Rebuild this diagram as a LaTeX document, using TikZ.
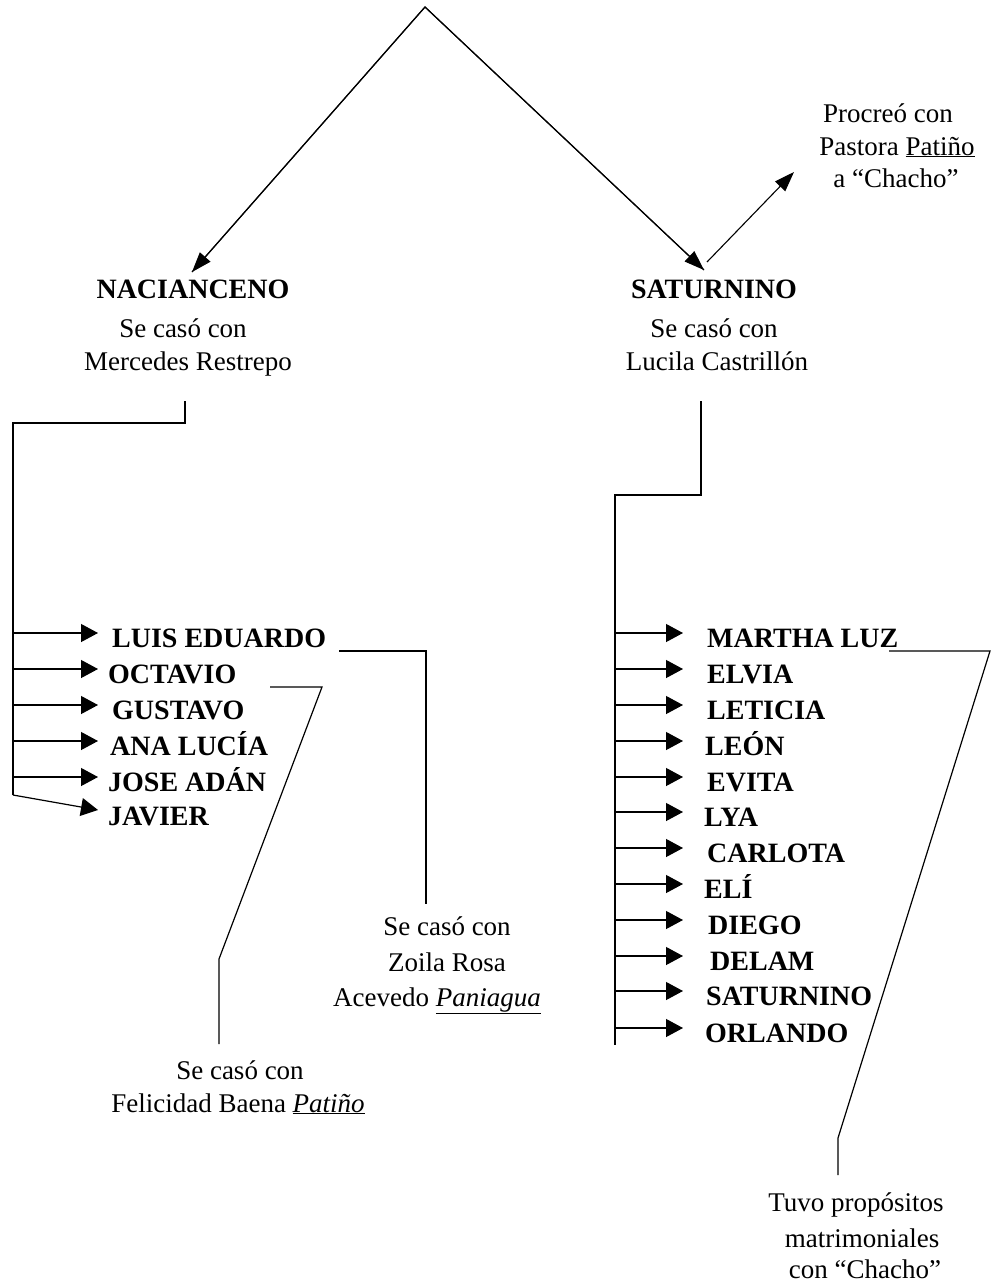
\documentclass[tikz,border=0pt]{standalone}
\usepackage{fontspec}
\setmainfont{Liberation Serif}
\usetikzlibrary{arrows.meta}
\begin{document}
\begin{tikzpicture}[x=1pt,y=-1pt,
  line/.style={line width=1.2pt},
  darr/.style={line width=1.1pt,-{Triangle[length=20pt,width=14pt]}},
  harr/.style={line width=1.2pt,-{Triangle[length=17pt,width=18pt]}},
  bname/.style={anchor=base west,inner sep=0pt,font=\fontsize{28}{34}\selectfont\bfseries},
  bhead/.style={anchor=base,inner sep=0pt,font=\fontsize{28}{34}\selectfont\bfseries},
  txt/.style={anchor=base,inner sep=0pt,font=\fontsize{27}{33}\selectfont}]
\useasboundingbox (0,0) rectangle (992,1285);
\fill[white] (0,0) rectangle (992,1285);

% top
\coordinate (apex) at (425,7);
\coordinate (nacTip) at (192,272);
\coordinate (satTip) at (704,270);
\coordinate (satOut) at (707,262);
\coordinate (procTip) at (794,172);
\draw[line] (nacTip) -- (apex) -- (satTip);
\draw[darr] (apex) -- (nacTip);
\draw[darr] (apex) -- (satTip);
\draw[darr] (satOut) -- (procTip);

\node[txt] (proc1) at (888,122) {Procreó con};
\node[txt] (proc2) at (897,155) {Pastora \underline{Patiño}};
\node[txt] (proc3) at (896,187) {a “Chacho”};

\node[bhead] (nac) at (193,298) {NACIANCENO};
\node[txt] (nac1) at (183,337) {Se casó con};
\node[txt] (nac2) at (188,370) {Mercedes Restrepo};

\node[bhead] (sat) at (714,298) {SATURNINO};
\node[txt] (sat1) at (714,337) {Se casó con};
\node[txt] (sat2) at (717,370) {Lucila Castrillón};

% left bracket
\coordinate (lb0) at (185,401);
\coordinate (lb1) at (185,423);
\coordinate (lb2) at (13,423);
\coordinate (lb3) at (13,795);
\draw[line] (lb0) -- (lb1) -- (lb2) -- (lb3);

\foreach \n/\x/\y/\t in {luis/112/633/LUIS EDUARDO, octavio/108/669/OCTAVIO, gustavo/112/705/GUSTAVO, ana/110/741/ANA LUCÍA, jose/108/777/JOSE ADÁN}{
  \node[bname] (\n) at (\x,\y+14) {\t};
  \coordinate (\n s) at (13,\y);
  \coordinate (\n t) at (98,\y);
  \draw[harr] (\n s) -- (\n t);
}
\node[bname] (javier) at (108,825) {JAVIER};
\coordinate (javiert) at (98,810);
\draw[harr] (lb3) -- (javiert);

% right bracket
\coordinate (rb0) at (701,401);
\coordinate (rb1) at (701,495);
\coordinate (rb2) at (615,495);
\coordinate (rb3) at (615,1045);
\draw[line] (rb0) -- (rb1) -- (rb2) -- (rb3);

\foreach \n/\x/\y/\t in {martha/707/633/MARTHA LUZ, elvia/707/669/ELVIA, leticia/707/705/LETICIA, leon/705/741/LEÓN, evita/707/777/EVITA, lya/704/812/LYA, carlota/707/848/CARLOTA, eli/704/884/ELÍ, diego/708/920/DIEGO, delam/710/956/DELAM, saturnino/706/991/SATURNINO, orlando/705/1028/ORLANDO}{
  \node[bname] (\n) at (\x,\y+14) {\t};
  \coordinate (\n s) at (615,\y);
  \coordinate (\n t) at (683,\y);
  \draw[harr] (\n s) -- (\n t);
}

% spouse connectors
\coordinate (c1a) at (339,651);
\coordinate (c1b) at (426,651);
\coordinate (c1c) at (426,904);
\draw[line] (c1a) -- (c1b) -- (c1c);
\node[txt] (zo1) at (447,935) {Se casó con};
\node[txt] (zo2) at (447,971) {Zoila Rosa};
\node[txt] (zo3) at (437,1006) {Acevedo \underline{\textit{Paniagua}}};

\coordinate (c2a) at (270,687);
\coordinate (c2b) at (322,687);
\coordinate (c2c) at (219,959);
\coordinate (c2d) at (219,1044);
\draw[line] (c2a) -- (c2b) -- (c2c) -- (c2d);
\node[txt] (fe1) at (240,1079) {Se casó con};
\node[txt] (fe2) at (238,1112) {Felicidad Baena \underline{\textit{Patiño}}};

\coordinate (c3a) at (889,651);
\coordinate (c3b) at (990,651);
\coordinate (c3c) at (838,1138);
\coordinate (c3d) at (838,1175);
\draw[line] (c3a) -- (c3b) -- (c3c) -- (c3d);
\node[txt] (tu1) at (856,1211) {Tuvo propósitos};
\node[txt] (tu2) at (862,1247) {matrimoniales};
\node[txt] (tu3) at (865,1278) {con “Chacho”};
\end{tikzpicture}
\end{document}
